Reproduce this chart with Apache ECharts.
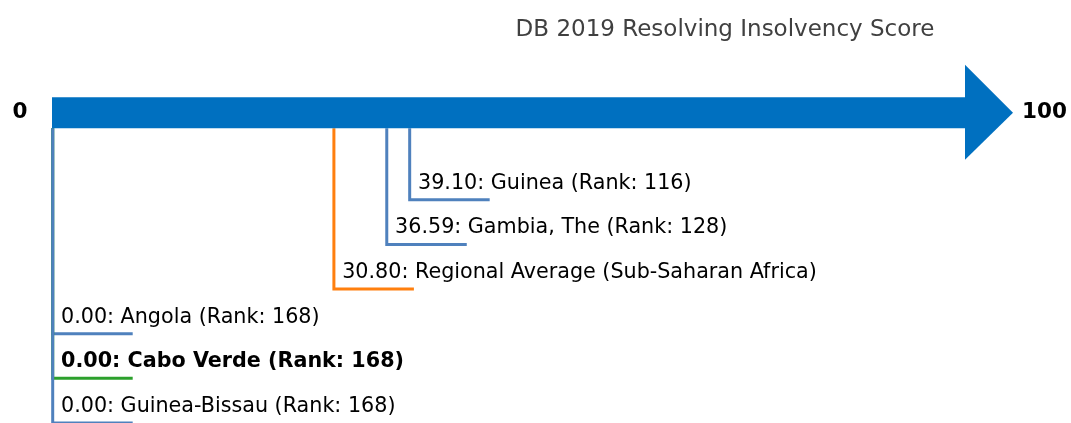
<!DOCTYPE html>
<html>
<head>
<meta charset="utf-8">
<script src="https://cdn.jsdelivr.net/npm/echarts@6/dist/echarts.min.js"></script>
<style>
  html, body { margin: 0; padding: 0; background: #fff; }
  #chart { width: 1071px; height: 423px; }
</style>
</head>
<body>
<div id="chart"></div>
<script>
/* ---- Data ---- */
const titleText = "DB 2019 Resolving Insolvency Score";
const axisEnds = [0, 100];
const endLabels = ["0", "100"];
const names = ["Guinea", "Gambia, The", "Regional Average (Sub-Saharan Africa)", "Angola", "Cabo Verde", "Guinea-Bissau"];
const scores = [39.10, 36.59, 30.80, 0.00, 0.00, 0.00];
const ranks = [116, 128, null, 168, 168, 168];
const rows = [1, 2, 3, 4, 5, 6];
const kinds = ["peer", "peer", "avg", "peer", "focus", "peer"];
const barLevel = -0.95;

/* ---- Styles ---- */
const COLORS = { peer: "#4f81bd", avg: "#ff7f0e", focus: "#2ca02c", bar: "#0070c0" };
const FONT = "DejaVu Sans";

function labelText(i) {
  const r = ranks[i] != null ? " (Rank: " + ranks[i] + ")" : "";
  return scores[i].toFixed(2) + ": " + names[i] + r;
}

const leaderData = scores.map((s, i) => [s, rows[i]]);

const chart = echarts.init(document.getElementById("chart"), null, { renderer: "canvas" });
chart.setOption({
  animation: false,
  backgroundColor: "#fff",
  title: {
    text: titleText, left: 720, top: 14, textAlign: "center",
    textStyle: { fontFamily: FONT, fontSize: 23, fontWeight: "normal", color: "#404040" }
  },
  grid: { left: 52, right: 106, top: 110.5, height: 316 },
  xAxis: { type: "value", min: 0, max: 100, show: false },
  yAxis: { type: "value", min: -1, max: 6, inverse: true, show: false },
  series: [
    {
      // leader lines + labels
      type: "custom",
      z: 1,
      clip: false,
      data: leaderData,
      renderItem: (params, api) => {
        const i = params.dataIndex;
        const top = api.coord([api.value(0), barLevel]);
        const p = api.coord([api.value(0), api.value(1)]);
        const color = COLORS[kinds[i]];
        const x = p[0] + 0.7;
        return {
          type: "group",
          children: [
            { type: "polyline", shape: { points: [[x, top[1] + 15.5], [x, p[1]], [x + 80, p[1]]] },
              style: { stroke: color, lineWidth: 3, fill: null } },
            { type: "text", x: p[0] + 9, y: p[1] - 16.5,
              style: { text: labelText(i), fontFamily: FONT, fontSize: 20.7,
                       fontWeight: kinds[i] === "focus" ? "bold" : "normal",
                       fill: "#000", verticalAlign: "middle", align: "left" } }
          ]
        };
      }
    },
    {
      // the arrow
      type: "custom",
      z: 3,
      clip: false,
      data: [[axisEnds[0], axisEnds[1], barLevel]],
      renderItem: (params, api) => {
        const a = api.coord([api.value(0), api.value(2)]);
        const b = api.coord([api.value(1), api.value(2)]);
        return {
          type: "group",
          children: [
            { type: "rect", shape: { x: a[0], y: a[1] - 15.5, width: b[0] - a[0], height: 31 },
              style: { fill: COLORS.bar } },
            { type: "polygon", shape: { points: [[b[0], a[1] - 48], [b[0] + 48, a[1]], [b[0], a[1] + 47]] },
              style: { fill: COLORS.bar } },
            { type: "text", x: a[0] - 32, y: a[1],
              style: { text: endLabels[0], fontFamily: FONT, fontSize: 21.5, fontWeight: "bold",
                       fill: "#000", align: "center", verticalAlign: "middle" } },
            { type: "text", x: b[0] + 57, y: a[1],
              style: { text: endLabels[1], fontFamily: FONT, fontSize: 21.5, fontWeight: "bold",
                       fill: "#000", align: "left", verticalAlign: "middle" } }
          ]
        };
      }
    }
  ]
});
</script>
</body>
</html>
